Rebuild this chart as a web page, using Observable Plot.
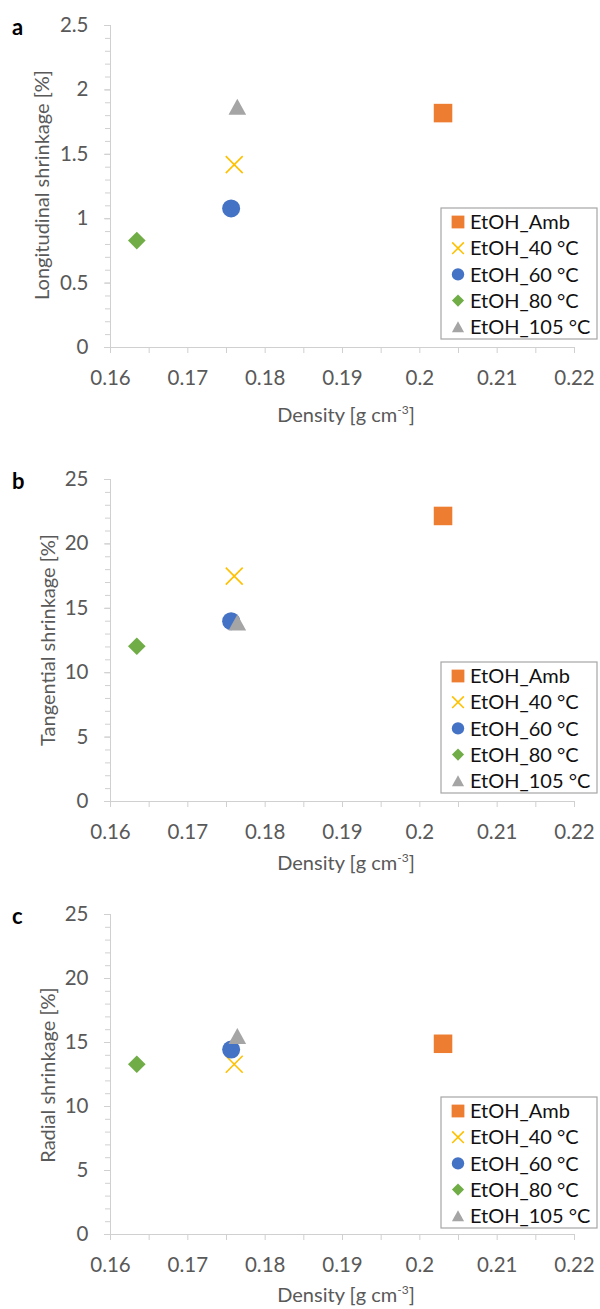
<!DOCTYPE html>
<html><head><meta charset="utf-8">
<script src="https://cdn.jsdelivr.net/npm/d3@7"></script>
<script src="https://cdn.jsdelivr.net/npm/@observablehq/plot@0.6"></script>
<style>
body{margin:0;background:#fff;}
#root{position:relative;width:600px;height:1309px;overflow:hidden;background:#fff;}
#root svg{position:absolute;left:0;}
</style></head><body><div id="root"></div>
<script>
// ---- data ----
const series = ["EtOH_Amb", "EtOH_40 °C", "EtOH_60 °C", "EtOH_80 °C", "EtOH_105 °C"];
const density = [0.2030, 0.1760, 0.1756, 0.1634, 0.1764];
const longitudinal = [1.82, 1.42, 1.08, 0.83, 1.87];
const tangential = [22.17, 17.5, 14.0, 12.05, 13.9];
const radial = [14.9, 13.3, 14.45, 13.3, 15.5];
const colors = ["#ED7D31", "#FFC000", "#4472C4", "#70AD47", "#A5A5A5"];
const shapes = ["square", "times", "circle", "diamond", "triangle"];
const xTicks = [0.16, 0.17, 0.18, 0.19, 0.20, 0.21, 0.22];
const xMinorTicks = [0.165, 0.175, 0.185, 0.195, 0.205, 0.215];
const yTicksA = [0, 0.5, 1, 1.5, 2, 2.5];
const yTicksBC = [0, 5, 10, 15, 20, 25];

const panels = [
  {letter: "a", yLabel: "Longitudinal shrinkage [%]", values: longitudinal, yMax: 2.5, yTicks: yTicksA, yMinor: 0.1,
   top: 0, areaH: 322, yTitleX: 41.5, yTitleY: 185, xTitleY: 422},
  {letter: "b", yLabel: "Tangential shrinkage [%]", values: tangential, yMax: 25, yTicks: yTicksBC, yMinor: 1,
   top: 454, areaH: 322, yTitleX: 48, yTitleY: 186, xTitleY: 416},
  {letter: "c", yLabel: "Radial shrinkage [%]", values: radial, yMax: 25, yTicks: yTicksBC, yMinor: 1,
   top: 889, areaH: 320, yTitleX: 48, yTitleY: 186, xTitleY: 413}
];

const AXIS = "#d0d0d0", TXT = "#595959";
const FONT = "Lato, 'Open Sans', sans-serif";

function makeSymbol(kind) {
  return {draw(ctx, size) {
    const r = Math.sqrt(size / Math.PI);
    if (kind === "square") { const h = r * 1.03; ctx.rect(-h, -h, 2 * h, 2 * h); }
    else if (kind === "circle") { ctx.moveTo(r, 0); ctx.arc(0, 0, r, 0, 2 * Math.PI); }
    else if (kind === "diamond") { const h = r * 0.98; ctx.moveTo(0, -h); ctx.lineTo(h, 0); ctx.lineTo(0, h); ctx.lineTo(-h, 0); ctx.closePath(); }
    else if (kind === "triangle") { const w = r * 0.98, h = r * 0.89; ctx.moveTo(0, -h); ctx.lineTo(w, h); ctx.lineTo(-w, h); ctx.closePath(); }
    else if (kind === "times") { const h = r * 0.94; ctx.moveTo(-h, -h); ctx.lineTo(h, h); ctx.moveTo(h, -h); ctx.lineTo(-h, h); }
  }};
}
function styleFor(i) {
  return shapes[i] === "times" ? {stroke: colors[i], strokeWidth: 1.6, fill: "none"} : {fill: colors[i], stroke: "none"};
}

const root = document.getElementById("root");

panels.forEach(p => {
  const rows = series.map((s, i) => ({series: s, x: density[i], y: p.values[i], i}));
  const yMinorTicks = d3.range(0, Math.round(p.yMax / p.yMinor) + 1).map(k => +(k * p.yMinor).toFixed(3));
  const height = 430;
  const svg = Plot.plot({
    width: 600, height,
    marginLeft: 110, marginRight: 26, marginTop: 25, marginBottom: height - 25 - p.areaH,
    x: {domain: [0.16, 0.22]},
    y: {domain: [0, p.yMax]},
    style: {fontFamily: FONT, background: "transparent", overflow: "visible"},
    marks: [
      Plot.ruleY([0], {stroke: AXIS, strokeWidth: 1}),
      Plot.ruleX([0.16], {stroke: AXIS, strokeWidth: 1}),
      Plot.axisX({ticks: xMinorTicks, tickSize: 6, tickFormat: () => "", stroke: AXIS, label: null}),
      Plot.axisY({ticks: yMinorTicks, tickSize: 5, tickFormat: () => "", stroke: AXIS, label: null}),
      Plot.axisX({ticks: xTicks, tickSize: 6, tickPadding: 17, tickFormat: d => String(+d.toFixed(2)),
                  fontSize: 20.5, stroke: AXIS, fill: TXT, label: null}),
      Plot.axisY({ticks: p.yTicks, tickSize: 6, tickPadding: 16, tickFormat: d => String(+d.toFixed(2)),
                  fontSize: 20.5, stroke: AXIS, fill: TXT, label: null}),
      ...rows.map(d => Plot.dot([d], {x: "x", y: "y", r: 9, symbol: makeSymbol(shapes[d.i]), ...styleFor(d.i)}))
    ]
  });
  svg.style.top = p.top + "px";
  root.appendChild(svg);
  const s = d3.select(svg);

  // panel letter
  s.append("text").attr("x", 12).attr("y", 35).attr("text-anchor", "start").attr("font-size", 22)
    .attr("font-weight", "bold").attr("fill", "#000").attr("font-family", FONT).text(p.letter);

  // y axis title
  s.append("text").attr("transform", `translate(${p.yTitleX},${p.yTitleY}) rotate(-90)`)
    .attr("text-anchor", "middle").attr("dy", "0.35em").attr("font-size", 20).attr("fill", TXT)
    .attr("font-family", FONT).text(p.yLabel);

  // x axis title
  const xt = s.append("text").attr("x", 346).attr("y", p.xTitleY).attr("text-anchor", "middle")
    .attr("font-size", 20).attr("fill", TXT).attr("font-family", FONT);
  xt.append("tspan").text("Density [g cm");
  xt.append("tspan").attr("font-size", 12).attr("dy", -8).text("-3");
  xt.append("tspan").attr("dy", 8).text("]");

  // legend
  const lg = s.append("g").attr("transform", "translate(441,208)");
  lg.append("rect").attr("x", 0).attr("y", 0).attr("width", 156).attr("height", 131)
    .attr("fill", "#fff").attr("stroke", "#a6a6a6").attr("stroke-width", 1.2);
  series.forEach((name, i) => {
    const cy = 14 + i * 26.2;
    const g = lg.append("g").attr("transform", `translate(17,${cy})`);
    const path = d3.path();
    makeSymbol(shapes[i]).draw(path, Math.PI * 6.2 * 6.2);
    const st = styleFor(i);
    g.append("path").attr("d", path.toString()).attr("fill", st.fill).attr("stroke", st.stroke)
      .attr("stroke-width", st.strokeWidth || 0);
    lg.append("text").attr("x", 29).attr("y", cy).attr("dy", "0.36em").attr("text-anchor", "start")
      .attr("font-size", 20).attr("fill", "#111").attr("font-family", FONT).text(name);
  });
});
</script></body></html>
